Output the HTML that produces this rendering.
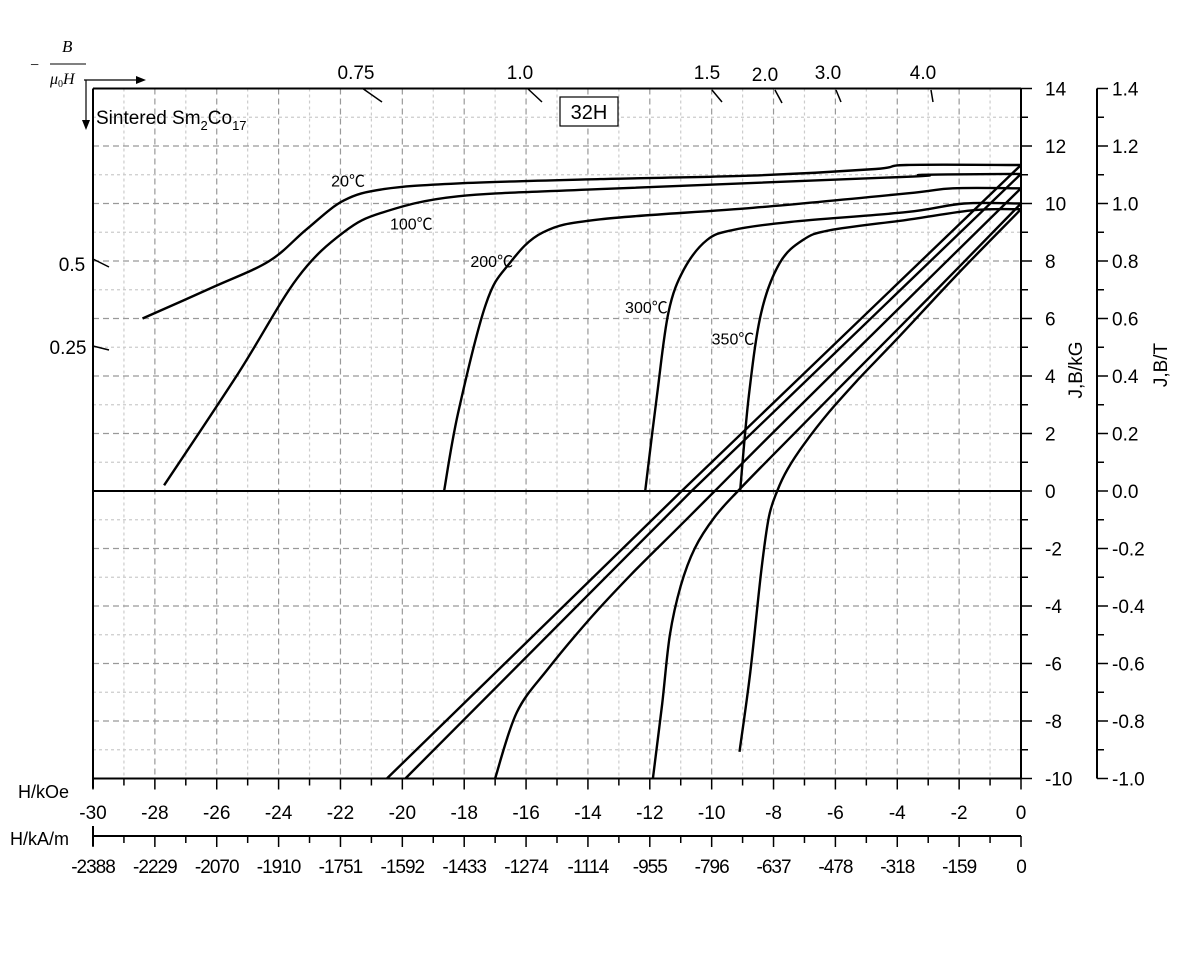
<!DOCTYPE html>
<html><head><meta charset="utf-8"><style>
body{margin:0;background:#fff}
svg{display:block;font-family:"Liberation Sans",Arial,sans-serif}
</style></head><body>
<svg id="chart" width="1200" height="960" viewBox="0 0 1200 960" xmlns="http://www.w3.org/2000/svg">
<g id="grid"></g>
<g id="curves"></g>
<g id="axes"></g>
<text x="96" y="124" font-size="19">Sintered Sm<tspan font-size="13" dy="6">2</tspan><tspan dy="-6">Co</tspan><tspan font-size="13" dy="6">17</tspan></text>
<rect x="560" y="97" width="58" height="29" fill="#fff" stroke="#000" stroke-width="1.2"/>
<text x="589" y="119" font-size="20" text-anchor="middle">32H</text>
<g font-family="'Liberation Serif',serif" font-style="italic">
<text x="30" y="70" font-size="16" font-style="normal">−</text>
<text x="62" y="52" font-size="17">B</text>
<line x1="50" y1="64" x2="86" y2="64" stroke="#000" stroke-width="1"/>
<text x="50" y="84" font-size="16">μ<tspan font-size="10" dy="3" font-style="normal">0</tspan><tspan dy="-3">H</tspan></text>
</g>
<line x1="84" y1="80" x2="138" y2="80" stroke="#000" stroke-width="1.2"/>
<polygon points="146,80 136,76 136,84" fill="#000"/>
<line x1="86" y1="80" x2="86" y2="122" stroke="#000" stroke-width="1.2"/>
<polygon points="86,130 82,120 90,120" fill="#000"/>
</svg>
<script>
var NS='http://www.w3.org/2000/svg';
// ---- data ----
var xTicksKOe=[-30,-28,-26,-24,-22,-20,-18,-16,-14,-12,-10,-8,-6,-4,-2,0];
var xTicksKAm=['-2388','-2229','-2070','-1910','-1751','-1592','-1433','-1274','-1114','-955','-796','-637','-478','-318','-159','0'];
var yTicksKG=[14,12,10,8,6,4,2,0,-2,-4,-6,-8,-10];
var yTicksT=['1.4','1.2','1.0','0.8','0.6','0.4','0.2','0.0','-0.2','-0.4','-0.6','-0.8','-1.0'];
var j20H=[-28.4,-26.1,-24.3,-23.1,-21.9,-20.6,-18.2,-13.6,-8.7,-4.7,-3.7,0];
var j20V=[6.0,7.1,8.0,9.1,10.1,10.5,10.7,10.85,10.97,11.2,11.34,11.34];
var j100H=[-27.7,-25.3,-23.4,-21.9,-20.6,-18.2,-13.6,-3.7,-3.2,0];
var j100V=[0.2,4.1,7.4,9.0,9.7,10.25,10.5,10.93,11.0,11.03];
var j200H=[-18.65,-18.2,-17.3,-16.55,-15.45,-13.6,-8.66,-3.7,-2.2,0];
var j200V=[0,2.7,6.5,7.9,9.0,9.45,9.85,10.35,10.53,10.53];
var j300H=[-12.15,-11.77,-11.4,-10.9,-10.15,-9.3,-7.45,-3.7,-1.84,0];
var j300V=[0,3.3,6.2,7.7,8.73,9.08,9.36,9.7,10.0,10.0];
var j350H=[-9.08,-8.8,-8.4,-7.8,-7.05,-6.17,-3.7,-1.5,0];
var j350V=[0,3.3,6.2,7.93,8.73,9.07,9.43,9.77,9.8];
var b20H=[0,-10.97,-20.5];
var b20V=[11.34,0,-10];
var b100H=[0,-10.65,-19.9];
var b100V=[11.03,0,-10];
var b200H=[0,-4,-8,-9.9,-11.2,-12.6,-13.9,-15.3,-16.3,-17.0];
var b200V=[10.53,6.3,2.05,0,-1.4,-2.9,-4.4,-6.2,-7.7,-10];
var b300H=[0,-3,-6,-8.2,-9.15,-9.9,-10.55,-11.0,-11.35,-11.6,-11.9];
var b300V=[10.0,6.7,3.45,1.05,0,-0.9,-2.0,-3.3,-5.0,-7.4,-10];
var b350H=[0,-2,-4,-5.2,-6.2,-7.0,-7.55,-7.88,-8.15,-8.4,-8.75,-9.1];
var b350V=[9.8,7.6,5.3,3.95,2.75,1.65,0.75,0,-0.9,-2.8,-6.3,-9.07];
var tempLabels=['20℃','100℃','200℃','300℃','350℃'];
var tempLabelH=[-22.3,-20.4,-17.8,-12.8,-10.0];
var tempLabelV=[10.6,9.1,7.8,6.2,5.1];
var permLabels=['0.75','1.0','1.5','2.0','3.0','4.0'];
// ---- scales ----
var X0=93,X1=1021,Y0=88.5,Y1=778.5;
function xs(h){return X1+h*(X1-X0)/30;}
function ys(v){return 491-v*(Y1-Y0)/24;}
function mk(tag,attrs,parent){var e=document.createElementNS(NS,tag);for(var k in attrs)e.setAttribute(k,attrs[k]);parent.appendChild(e);return e;}
var grid=document.getElementById('grid'),axes=document.getElementById('axes'),curves=document.getElementById('curves');
for(var h=-29;h<0;h++){
  var g=mk('line',{x1:xs(h),x2:xs(h),y1:Y0,y2:Y1,stroke:(h%2===0)?'#999':'#ccc','stroke-width':1.2,'stroke-dasharray':(h%2===0)?'6,4':'3,3'},grid);
  
  
}
for(var v=-9;v<14;v++){if(v===0)continue;
  var g2=mk('line',{x1:X0,x2:X1,y1:ys(v),y2:ys(v),stroke:(v%2===0)?'#999':'#ccc','stroke-width':1.2,'stroke-dasharray':(v%2===0)?'6,4':'3,3'},grid);
  
  
}
var A=[['left-axis',X0,Y0,X0,Y1+10],['top-axis',X0,Y0,X1,Y0],['right-axis-kg',X1,Y0,X1,Y1],['bottom-axis-koe',X0,Y1,X1,Y1],['zero-line',X0,491,X1,491],['kam-axis',X0,836,X1,836],['right-axis-tesla',1097,Y0,1097,Y1]];
A.forEach(function(a){var l=mk('line',{x1:a[1],y1:a[2],x2:a[3],y2:a[4],stroke:'#000','stroke-width':2},axes);
  
  });
mk('line',{x1:X0,y1:826,x2:X0,y2:846,stroke:'#000','stroke-width':2},axes);
for(var h2=-30;h2<=0;h2++){var maj=(h2%2===0);
  mk('line',{x1:xs(h2),x2:xs(h2),y1:Y1,y2:Y1+(maj?11:7),stroke:'#000','stroke-width':1.5},axes);
  mk('line',{x1:xs(h2),x2:xs(h2),y1:836,y2:836+(maj?11:7),stroke:'#000','stroke-width':1.5},axes);}
xTicksKOe.forEach(function(t,i){var tx=mk('text',{x:xs(t),y:819,'font-size':19,'text-anchor':'middle'},axes);tx.textContent=String(t);
  
  
  var tk=mk('text',{x:xs(t),y:873,'font-size':19,'text-anchor':'middle','letter-spacing':'-1'},axes);tk.textContent=xTicksKAm[i];
  
  });
var l1=mk('text',{x:18,y:798,'font-size':18},axes);l1.textContent='H/kOe';


var l2=mk('text',{x:10,y:845,'font-size':18},axes);l2.textContent='H/kA/m';


for(var v2=-10;v2<=14;v2++){var mj=(v2%2===0);
  mk('line',{x1:X1,x2:X1+(mj?11:7),y1:ys(v2),y2:ys(v2),stroke:'#000','stroke-width':1.5},axes);
  mk('line',{x1:1097,x2:1097+(mj?11:7),y1:ys(v2),y2:ys(v2),stroke:'#000','stroke-width':1.5},axes);}
yTicksKG.forEach(function(t,i){var ty=mk('text',{x:1045,y:ys(t)+7,'font-size':19},axes);ty.textContent=String(t);
  
  
  var tt=mk('text',{x:1112,y:ys(t)+7,'font-size':19},axes);tt.textContent=yTicksT[i];
  
  });
var yt1=mk('text',{x:0,y:0,'font-size':19,'text-anchor':'middle',transform:'translate(1082,370) rotate(-90)'},axes);yt1.textContent='J,B/kG';


var yt2=mk('text',{x:0,y:0,'font-size':19,'text-anchor':'middle',transform:'translate(1167,365) rotate(-90)'},axes);yt2.textContent='J,B/T';


var permPos=[[356,72,362,88,382,102],[520,72,527,88,542,102],[707,72,712,90,722,102],[765,74,775,90,782,103],[828,72,836,90,841,102],[923,72,931,90,933,102],[72,264,93,259,109,267],[68,347,93,346,109,350]];
var allPerm=permLabels.concat(['0.5','0.25']);
allPerm.forEach(function(t,i){var p=permPos[i];
  var tx=mk('text',{x:p[0],y:p[1]+7,'font-size':19,'text-anchor':'middle'},axes);tx.textContent=t;
  
  
  mk('line',{x1:p[2],y1:p[3],x2:p[4],y2:p[5],stroke:'#000','stroke-width':1.5},axes);});
function path(H,V,smooth){var P=H.map(function(h,i){return [xs(h),ys(V[i])];});
  var d='M'+P[0][0].toFixed(1)+','+P[0][1].toFixed(1);
  for(var i=0;i<P.length-1;i++){
    if(!smooth){d+=' L'+P[i+1][0].toFixed(1)+','+P[i+1][1].toFixed(1);continue;}
    var p0=P[i-1]||P[i],p1=P[i],p2=P[i+1],p3=P[i+2]||p2;
    var c1=[p1[0]+(p2[0]-p0[0])/6,p1[1]+(p2[1]-p0[1])/6],c2=[p2[0]-(p3[0]-p1[0])/6,p2[1]-(p3[1]-p1[1])/6];
    d+=' C'+c1[0].toFixed(1)+','+c1[1].toFixed(1)+' '+c2[0].toFixed(1)+','+c2[1].toFixed(1)+' '+p2[0].toFixed(1)+','+p2[1].toFixed(1);}
  return d;}
var series=[['j-curve-20c',j20H,j20V,1],['j-curve-100c',j100H,j100V,1],['j-curve-200c',j200H,j200V,1],['j-curve-300c',j300H,j300V,1],['j-curve-350c',j350H,j350V,1],
 ['b-curve-20c',b20H,b20V,0],['b-curve-100c',b100H,b100V,0],['b-curve-200c',b200H,b200V,1],['b-curve-300c',b300H,b300V,1],['b-curve-350c',b350H,b350V,1]];
series.forEach(function(s){var p=mk('path',{d:path(s[1],s[2],s[3]),fill:'none',stroke:'#000','stroke-width':2.4},curves);
  
  });
tempLabels.forEach(function(t,i){var tx=mk('text',{x:xs(tempLabelH[i]),y:ys(tempLabelV[i]),'font-size':16,fill:'#000','font-family':'"Liberation Sans","Noto Sans CJK SC",sans-serif'},curves);tx.textContent=t;
  
  });
</script>
</body></html>
